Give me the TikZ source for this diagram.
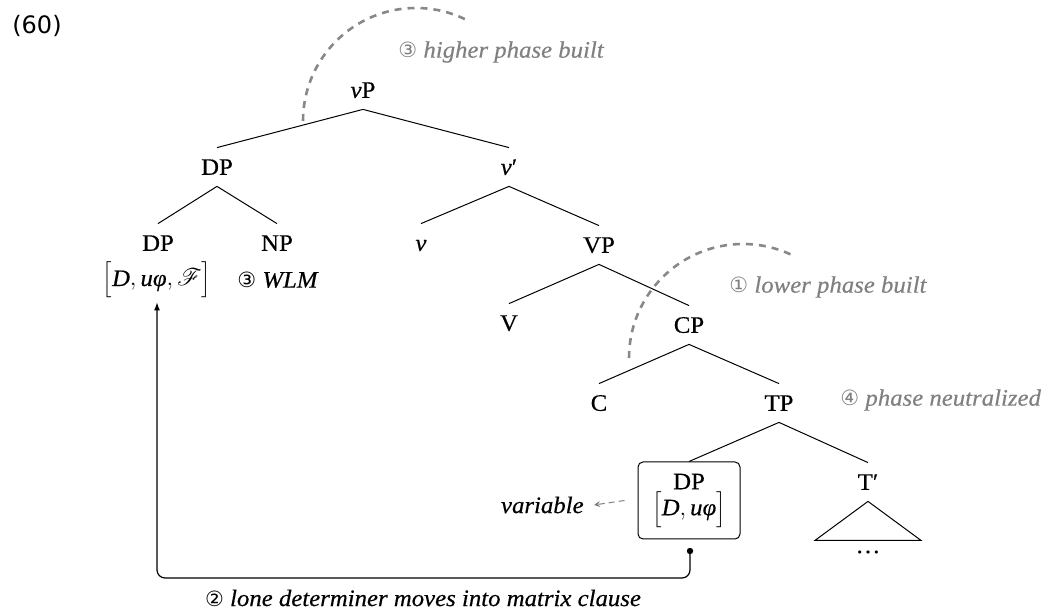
\documentclass[tikz,border=0pt]{standalone}
\usepackage{fontspec}
\usepackage{mathrsfs}
\setmainfont{Liberation Serif}[FakeStretch=1.05,FakeBold=0.4]
\newfontfamily\symf{DejaVu Sans}
\usetikzlibrary{arrows.meta}
\definecolor{lblgray}{RGB}{128,128,128}
\definecolor{arcgray}{RGB}{136,136,136}
\newcommand{\feat}[1]{\textit{#1}}
\begin{document}
\begin{tikzpicture}[x=0.5pt,y=-0.5pt,
  every node/.style={font=\fontsize{11.8}{14}\selectfont},
  cat/.style={inner xsep=1pt, inner ysep=0pt, text height=7.8pt, text depth=0pt, minimum height=19pt},
  branch/.style={line width=0.5pt},
  phase/.style={draw=arcgray, line width=1.3pt, dash pattern=on 3.5pt off 3pt},
  note/.style={text=lblgray, font=\fontsize{11.8}{14}\selectfont\itshape, inner sep=0pt},
  boxed/.style={draw, line width=0.5pt, rounded corners=2.5pt, minimum width=51pt, minimum height=38.5pt, align=center, inner sep=2pt},
  move/.style={line width=0.6pt, rounded corners=4pt, -{Latex[length=4pt,width=3pt]}},
  trace/.style={draw=lblgray, line width=0.5pt, dash pattern=on 3pt off 2pt, -{Stealth[length=3pt,width=3pt]}}
]
\useasboundingbox (0,0) rectangle (1044,613);

% example number
\node[font=\fontsize{12}{14}\selectfont\symf, inner sep=0pt] (ex) at (37,26) {(60)};

% tree nodes
\node[cat] (vP) at (363,90) {\textit{v}P};
\node[cat] (DP1) at (217,167) {DP};
\node[cat] (v1) at (509,167) {\textit{v}′};
\node[cat] (DP2) at (158,243) {DP};
\node[cat] (NP) at (277,243) {NP};
\node[inner sep=0pt] (feat1) at (157,280) {$\Bigl[\feat{D},\feat{uφ},\mathscr{F}\Bigr]$};
\node[anchor=west, inner sep=0pt] (wlm) at (237,280) {{\symf\fontsize{10.5}{12}\selectfont ③}\ \textit{WLM}};
\node[cat] (v2) at (421,243) {\textit{v}};
\node[cat] (VP) at (599,245) {VP};
\node[cat] (V) at (509,323) {V};
\node[cat] (CP) at (689,325) {CP};
\node[cat] (C) at (599,403) {C};
\node[cat] (TP) at (779,403) {TP};
\node[boxed] (DP3) at (689,500.5) {DP\\[-1pt]$\Bigl[\feat{D},\feat{uφ}\Bigr]$};
\node[cat] (Tbar) at (868,482) {T′};
\node[inner sep=0pt] (dots) at (868,552) {\dots};
\node[circle, fill, inner sep=0pt, minimum size=3.2pt] (dot) at (690,551) {};
\node[anchor=east, inner sep=0pt] (var) at (584,505) {\textit{variable}};

% notes
\node[note, anchor=west] (n3) at (398,52) {{\symf\upshape\fontsize{10.5}{12}\selectfont ③}\ higher phase built};
\node[note, anchor=west] (n1) at (729,287) {{\symf\upshape\fontsize{10.5}{12}\selectfont ①}\ lower phase built};
\node[note, anchor=west] (n4) at (840,400) {{\symf\upshape\fontsize{10.5}{12}\selectfont ④}\ phase neutralized};
\node[inner sep=0pt] (n2) at (423,598) {{\symf\fontsize{10.5}{12}\selectfont ②}\ \textit{lone determiner moves into matrix clause}};

% branches
\draw[branch] (vP.south) -- (DP1.north);
\draw[branch] (vP.south) -- (v1.north);
\draw[branch] (DP1.south) -- (DP2.north);
\draw[branch] (DP1.south) -- (NP.north);
\draw[branch] (v1.south) -- (v2.north);
\draw[branch] (v1.south) -- (VP.north);
\draw[branch] (VP.south) -- (V.north);
\draw[branch] (VP.south) -- (CP.north);
\draw[branch] (CP.south) -- (C.north);
\draw[branch] (CP.south) -- (TP.north);
\draw[branch] (TP.south) -- (DP3.north);
\draw[branch] (TP.south) -- (Tbar.north);
\draw[branch] (Tbar.south) -- ++(-53,39) -- ++(106,0) -- cycle;

% phase arcs
\draw[phase] (303,121) arc[start angle=180, end angle=62.5, radius=56.5pt];
\draw[phase] (629,358) arc[start angle=180, end angle=62.5, radius=57pt];

% movement
\coordinate (turn) at (690,578);
\draw[move] (dot.center) -- (turn) -| ([yshift=-2pt]feat1.south);
\draw[trace] ([xshift=-6.5pt]DP3.west) -- ([xshift=5pt]var.east);
\end{tikzpicture}
\end{document}
